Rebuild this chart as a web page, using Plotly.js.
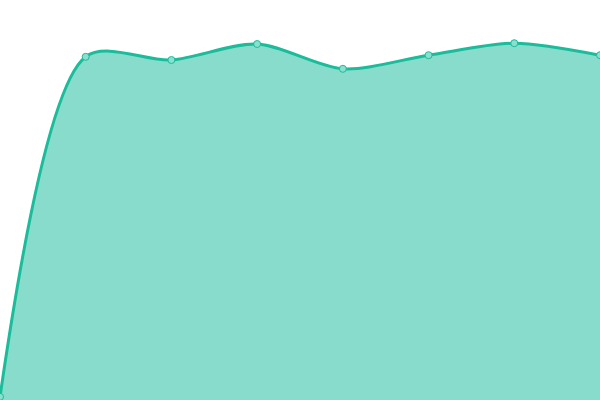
<!DOCTYPE html>
<html>
<head>
<meta charset="utf-8">
<script src="https://cdn.plot.ly/plotly-3.0.1.min.js"></script>
<style>
html, body {margin: 0; padding: 0; background: #fff;}
#chart {width: 600px; height: 400px;}
</style>
</head>
<body>
<div id="chart"></div>
<script>
// Series values.
var xs = [0, 1, 2, 3, 4, 5, 6, 7];
var values = [0.8, 85.8, 85, 89, 82.8, 86.2, 89.2, 86.2];

var trace = {
x: xs,
y: values,
type: 'scatter',
mode: 'lines+markers',
fill: 'tozeroy',
fillcolor: 'rgba(26,188,156,0.52)',
line: {shape: 'spline', smoothing: 0.85, color: '#1abc9c', width: 3},
marker: {size: 7, color: '#8ae0cf', line: {color: '#1abc9c', width: 1}},
showlegend: false,
hoverinfo: 'none'
};

var layout = {
width: 600,
height: 400,
margin: {l: 0, r: 0, t: 0, b: 0},
paper_bgcolor: '#fff',
plot_bgcolor: '#fff',
xaxis: {range: [0, 7], visible: false, showgrid: false, zeroline: false},
yaxis: {range: [0, 100], visible: false, showgrid: false, zeroline: false}
};

Plotly.newPlot('chart', [trace], layout, {displayModeBar: false, staticPlot: true});
</script>
</body>
</html>
